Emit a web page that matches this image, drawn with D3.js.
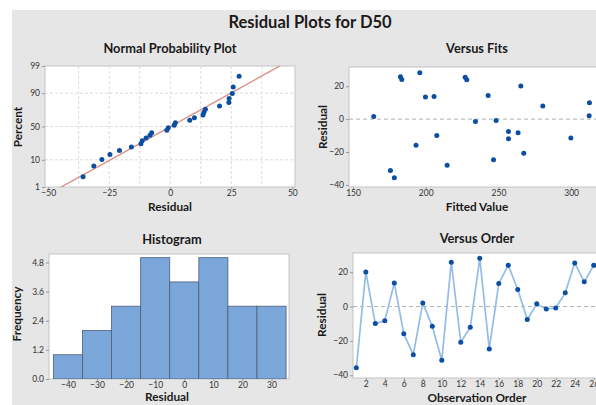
<!DOCTYPE html>
<html><head><meta charset="utf-8">
<script src="https://cdn.jsdelivr.net/npm/d3@7"></script>
<style>
html,body{margin:0;padding:0;background:#fff;overflow:hidden}
text{font-family:Lato,"Open Sans",sans-serif}
</style></head>
<body><svg id="c" width="596" height="405"></svg>
<script>
// Data (observation order)
const residuals = [-35.7, 20.2, -9.9, -8.3, 13.8, -15.9, -28.0, 2.1, -11.5, -31.3, 25.8, -20.8, -12.0, 28.2, -24.7, 13.4, 24.1, 9.9, -7.6, 1.6, -1.4, -0.8, 8.0, 25.4, 14.4, 24.0];
const fitted = [178.4, 265.4, 207.6, 263.5, 205.7, 193.3, 214.7, 312.4, 299.8, 175.7, 182.6, 267.4, 256.9, 195.9, 246.6, 199.8, 183.5, 312.6, 256.9, 164.2, 234.2, 248.4, 280.5, 227.1, 242.9, 228.2];
const observation = residuals.map((d, i) => i + 1);
const pctTicks = [1, 10, 50, 90, 99];
const pctGrid = [10, 50, 90];
const normXTicks = [-50, -25, 0, 25, 50];
const normXGrid = [-37.5, -25, -12.5, 0, 12.5, 25, 37.5];
const histThresholds = [-45, -35, -25, -15, -5, 5, 15, 25, 35];
const histXTicks = [-40, -30, -20, -10, 0, 10, 20, 30];
const histYTicks = [0, 1.2, 2.4, 3.6, 4.8];
const fitsXTicks = [150, 200, 250, 300];
const resYTicks = [-40, -20, 0, 20];
const orderXTicks = d3.range(2, 27, 2);

// inverse normal CDF (Acklam)
function qnorm(p){
  const a=[-3.969683028665376e+01,2.209460984245205e+02,-2.759285104469687e+02,1.383577518672690e+02,-3.066479806614716e+01,2.506628277459239e+00];
  const b=[-5.447609879822406e+01,1.615858368580409e+02,-1.556989798598866e+02,6.680131188771972e+01,-1.328068155288572e+01];
  const c=[-7.784894002430293e-03,-3.223964580411365e-01,-2.400758277161838e+00,-2.549732539343734e+00,4.374664141464968e+00,2.938163982698783e+00];
  const d=[7.784695709041462e-03,3.224671290700398e-01,2.445134137142996e+00,3.754408661907416e+00];
  const pl=0.02425, ph=1-pl; let q,r;
  if(p<pl){q=Math.sqrt(-2*Math.log(p));return (((((c[0]*q+c[1])*q+c[2])*q+c[3])*q+c[4])*q+c[5])/((((d[0]*q+d[1])*q+d[2])*q+d[3])*q+1);}
  if(p<=ph){q=p-0.5;r=q*q;return (((((a[0]*r+a[1])*r+a[2])*r+a[3])*r+a[4])*r+a[5])*q/(((((b[0]*r+b[1])*r+b[2])*r+b[3])*r+b[4])*r+1);}
  q=Math.sqrt(-2*Math.log(1-p));return -(((((c[0]*q+c[1])*q+c[2])*q+c[3])*q+c[4])*q+c[5])/((((d[0]*q+d[1])*q+d[2])*q+d[3])*q+1);
}

const svg = d3.select("#c");
svg.append("rect").attr("x",12).attr("y",10).attr("width",600).attr("height",400).attr("fill","#e6e6e6");
svg.append("text").attr("x",310).attr("y",28).attr("text-anchor","middle").attr("font-size",16.5).attr("font-weight","bold").attr("fill","#1a1a1a").text("Residual Plots for D50");

const dotColor = "#0b4ea2";
let clipId = 0;
function panel(x0,x1,y0,y1,title,tY,xl,xlY,yl,ylX){
  const g = svg.append("g");
  g.append("rect").attr("x",x0).attr("y",y0).attr("width",x1-x0).attr("height",y1-y0).attr("fill","#fff").attr("stroke","#c4c4c4").attr("stroke-width",1);
  const id = "clip"+(clipId++);
  svg.append("clipPath").attr("id",id).append("rect").attr("x",x0).attr("y",y0).attr("width",x1-x0).attr("height",y1-y0);
  g.append("text").attr("x",title[1]).attr("y",tY).attr("text-anchor","middle").attr("font-size",12.8).attr("font-weight","bold").attr("fill","#1a1a1a").text(title[0]);
  g.append("text").attr("x",xl[1]).attr("y",xlY).attr("text-anchor","middle").attr("font-size",11.8).attr("font-weight","bold").attr("fill","#1a1a1a").text(xl[0]);
  g.append("text").attr("transform",`translate(${ylX},${yl[1]}) rotate(-90)`).attr("text-anchor","middle").attr("font-size",11.8).attr("font-weight","bold").attr("fill","#1a1a1a").text(yl[0]);
  const inner = g.append("g").attr("clip-path",`url(#${id})`);
  return {g, inner};
}
function styleAxis(ax){
  ax.select(".domain").remove();
  ax.selectAll(".tick line").attr("stroke","#999");
  ax.selectAll(".tick text").attr("fill","#333").attr("font-size",8.5).attr("font-family","Lato,'Open Sans',sans-serif");
}
function dashedGrid(sel){ sel.attr("stroke","#dcdcdc").attr("stroke-dasharray","3,2").attr("stroke-width",1); }

// ---------- Normal probability plot ----------
{
  const L=45,R=295,T=66,B=187;
  const p = panel(L,R,T,B,["Normal Probability Plot",170],53,["Residual",170],211,["Percent",127],22);
  const x = d3.scaleLinear().domain([-51.3,51.1]).range([L,R]);
  const y = d3.scaleLinear().domain([qnorm(0.01),qnorm(0.99)]).range([B,T]);
  p.inner.selectAll(".vg").data(normXGrid).join("line").attr("x1",d=>x(d)).attr("x2",d=>x(d)).attr("y1",T).attr("y2",B).call(dashedGrid);
  p.inner.selectAll(".hg").data(pctGrid).join("line").attr("x1",L).attr("x2",R).attr("y1",d=>y(qnorm(d/100))).attr("y2",d=>y(qnorm(d/100))).call(dashedGrid);
  const n = residuals.length;
  const mean = d3.mean(residuals), sd = d3.deviation(residuals);
  p.inner.append("line").attr("x1",x(mean+sd*y.domain()[0]-30)).attr("y1",y(y.domain()[0]-30/sd))
    .attr("x2",x(mean+sd*y.domain()[1]+30)).attr("y2",y(y.domain()[1]+30/sd)).attr("stroke","#d98b80").attr("stroke-width",1.3);
  const sorted = residuals.slice().sort((a,b)=>a-b);
  p.inner.selectAll("circle").data(sorted).join("circle").attr("cx",d=>x(d)).attr("cy",(d,i)=>y(qnorm((i+1-0.3)/(n+0.4)))).attr("r",2.5).attr("fill",dotColor);
  const ax = p.g.append("g").attr("transform",`translate(0,${B})`).call(d3.axisBottom(x).tickValues(normXTicks).tickSize(2).tickPadding(1)); styleAxis(ax);
  const ay = p.g.append("g").attr("transform",`translate(${L},0)`).call(d3.axisLeft(y).tickValues(pctTicks.map(d=>qnorm(d/100))).tickFormat((d,i)=>pctTicks[i]).tickSize(3).tickPadding(2)); styleAxis(ay);
}

// ---------- Versus Fits ----------
{
  const L=349,R=621,T=67,B=187;
  const p = panel(L,R,T,B,["Versus Fits",477],53,["Fitted Value",477],211,["Residual",127],327);
  const x = d3.scaleLinear().domain([147.2,334.3]).range([L,R]);
  const y = d3.scaleLinear().domain([-41.3,31.7]).range([B,T]);
  p.inner.append("line").attr("x1",L).attr("x2",R).attr("y1",y(0)).attr("y2",y(0)).attr("stroke","#b0b0b0").attr("stroke-dasharray","4,3");
  p.inner.selectAll("circle").data(fitted).join("circle").attr("cx",d=>x(d)).attr("cy",(d,i)=>y(residuals[i])).attr("r",2.5).attr("fill",dotColor);
  const ax = p.g.append("g").attr("transform",`translate(0,${B})`).call(d3.axisBottom(x).tickValues(fitsXTicks).tickSize(2).tickPadding(1)); styleAxis(ax);
  const ay = p.g.append("g").attr("transform",`translate(${L},0)`).call(d3.axisLeft(y).tickValues(resYTicks).tickSize(3).tickPadding(2)); styleAxis(ay);
}

// ---------- Histogram ----------
{
  const L=49,R=289,T=254,B=379;
  const p = panel(L,R,T,B,["Histogram",172],244,["Residual",167],401,["Frequency",314],21);
  const x = d3.scaleLinear().domain([-46.5,36]).range([L,R]);
  const y = d3.scaleLinear().domain([0,5.15]).range([B,T]);
  const bins = d3.bin().domain([histThresholds[0],histThresholds[histThresholds.length-1]]).thresholds(histThresholds.slice(1,-1))(residuals);
  p.inner.selectAll("rect.bar").data(bins).join("rect").attr("class","bar")
    .attr("x",d=>x(d.x0)).attr("width",d=>x(d.x1)-x(d.x0)).attr("y",d=>y(d.length)).attr("height",d=>y(0)-y(d.length))
    .attr("fill","#7ba6da").attr("stroke","#4d5f7a").attr("stroke-width",0.8);
  const ax = p.g.append("g").attr("transform",`translate(0,${B})`).call(d3.axisBottom(x).tickValues(histXTicks).tickSize(2).tickPadding(0.5)); styleAxis(ax);
  const ay = p.g.append("g").attr("transform",`translate(${L},0)`).call(d3.axisLeft(y).tickValues(histYTicks).tickFormat(d3.format(".1f")).tickSize(3).tickPadding(2)); styleAxis(ay);
}

// ---------- Versus Order ----------
{
  const L=353,R=598,T=253,B=378;
  const p = panel(L,R,T,B,["Versus Order",477],243,["Observation Order",477],402,["Residual",315],326);
  const x = d3.scaleLinear().domain([0.65,26.45]).range([L,R]);
  const y = d3.scaleLinear().domain([-41.6,31.2]).range([B,T]);
  p.inner.append("line").attr("x1",L).attr("x2",R).attr("y1",y(0)).attr("y2",y(0)).attr("stroke","#b0b0b0").attr("stroke-dasharray","4,3");
  p.inner.append("path").datum(residuals).attr("d",d3.line().x((d,i)=>x(observation[i])).y(d=>y(d))).attr("fill","none").attr("stroke","#94bde6").attr("stroke-width",1.7);
  p.inner.selectAll("circle").data(residuals).join("circle").attr("cx",(d,i)=>x(observation[i])).attr("cy",d=>y(d)).attr("r",2.5).attr("fill",dotColor);
  const ax = p.g.append("g").attr("transform",`translate(0,${B})`).call(d3.axisBottom(x).tickValues(orderXTicks).tickSize(2).tickPadding(0.5)); styleAxis(ax);
  const ay = p.g.append("g").attr("transform",`translate(${L},0)`).call(d3.axisLeft(y).tickValues(resYTicks).tickSize(3).tickPadding(2)); styleAxis(ay);
}
</script></body></html>
